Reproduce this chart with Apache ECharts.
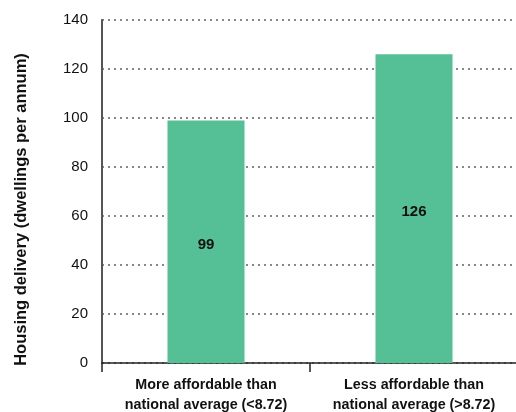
<!DOCTYPE html>
<html><head><meta charset="utf-8">
<script src="https://cdn.jsdelivr.net/npm/echarts@6/dist/echarts.min.js"></script>
<style>html,body{margin:0;padding:0;background:#fff}#c{width:516px;height:412px}</style>
</head><body><div id="c"></div>
<script>
const categories = ['More affordable than\nnational average (<8.72)', 'Less affordable than\nnational average (>8.72)'];
const values = [99, 126];
const yAxisTitle = 'Housing delivery (dwellings per annum)';
const yMin = 0, yMax = 140, yStep = 20;

const F = '"Liberation Sans", Arial, sans-serif';
const chart = echarts.init(document.getElementById('c'), null, {renderer: 'canvas'});
chart.setOption({
  animation: false,
  grid: {left: 102, width: 416, top: 20, bottom: 49, containLabel: false, outerBoundsMode: 'none'},
  xAxis: {
    type: 'category',
    data: categories,
    axisLine: {lineStyle: {color: '#222', width: 1.5}},
    axisTick: {show: true, length: 9, lineStyle: {color: '#222', width: 1.5}},
    axisLabel: {interval: 0, color: '#111', fontFamily: F, fontWeight: 'bold', fontSize: 14.3, lineHeight: 20, margin: 12, align: 'center'}
  },
  yAxis: {
    type: 'value', min: yMin, max: yMax, interval: yStep,
    name: yAxisTitle, nameLocation: 'middle', nameRotate: 90, nameGap: 72,
    nameTextStyle: {color: '#111', fontFamily: F, fontWeight: 'bold', fontSize: 16.5, padding: [0, 36, 0, 0]},
    axisLine: {show: true, lineStyle: {color: '#555', width: 2}},
    axisTick: {show: false},
    axisLabel: {color: '#111', fontFamily: F, fontSize: 15, margin: 14},
    splitLine: {show: true, lineStyle: {color: '#888', width: 2, type: [2, 4]}}
  },
  series: [{
    type: 'bar',
    data: values,
    barWidth: 77,
    itemStyle: {color: '#55bf95'},
    label: {show: true, position: 'inside', offset: [0, 3], color: '#111', fontFamily: F, fontWeight: 'bold', fontSize: 15}
  }]
});
</script></body></html>
